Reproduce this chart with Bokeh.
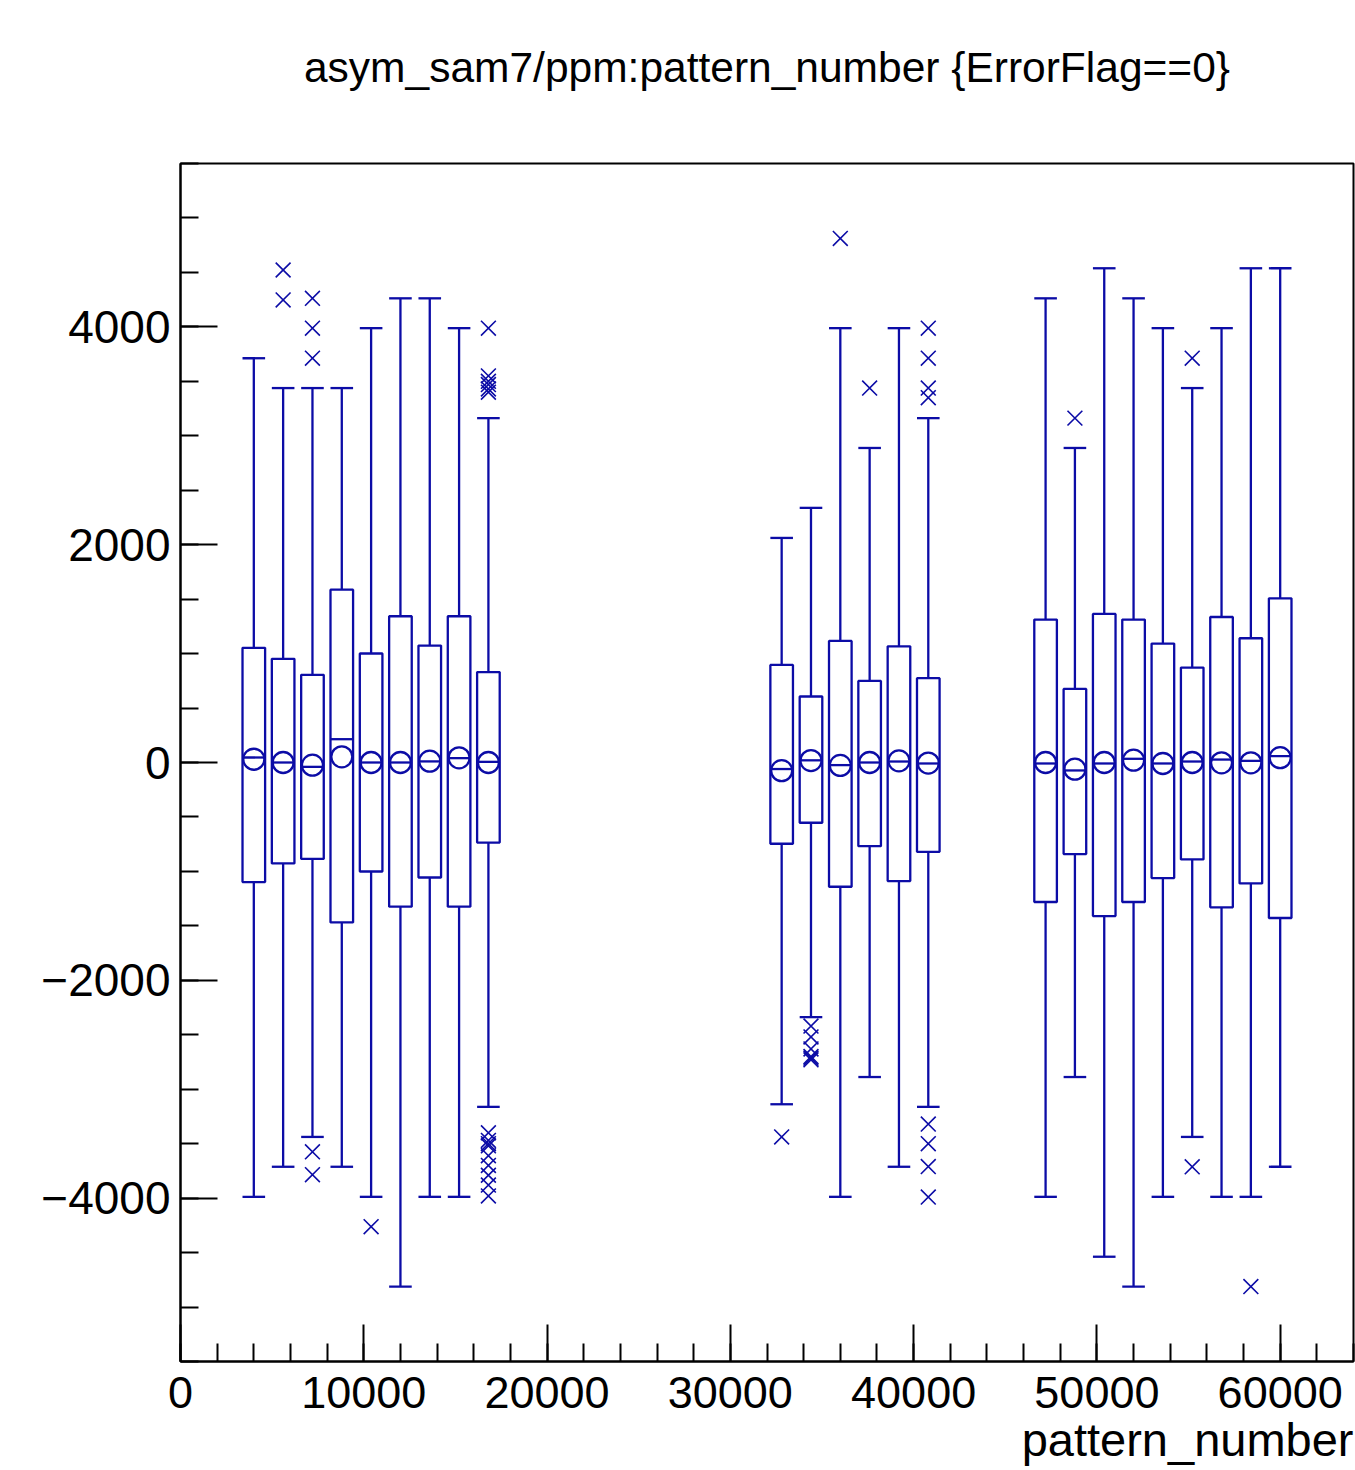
from bokeh.plotting import figure
from bokeh.models import ColumnDataSource, Range1d, SingleIntervalTicker, Title, CustomJSTickFormatter
from bokeh.embed import file_html
from bokeh.resources import INLINE

# ---------------- data ----------------
pattern_bins = [4000, 5600, 7200, 8800, 10400, 12000, 13600, 15200, 16800,
                32800, 34400, 36000, 37600, 39200, 40800,
                47200, 48800, 50400, 52000, 53600, 55200, 56800, 58400, 60000]
whisker_high = [3712, 3438, 3438, 3438, 3988, 4262, 4262, 3988, 3162,
                2062, 2338, 3988, 2888, 3988, 3162,
                4262, 2888, 4538, 4262, 3988, 3438, 3988, 4538, 4538]
q3 = [1053, 952, 805, 1587, 1001, 1343, 1074, 1343, 830,
      896, 606, 1116, 749, 1067, 774,
      1312, 676, 1364, 1312, 1092, 872, 1336, 1141, 1507]
median = [46, 0, -40, 214, 0, 0, 10, 40, 6,
          -60, 20, -24, 0, 9, -9,
          -9, -73, -9, 34, -9, 9, 27, 15, 58]
mean = [30, 0, -25, 52, 0, 0, 12, 43, 0,
        -75, 18, -27, 0, 15, -5,
        0, -61, 0, 21, -9, 0, -3, -3, 44]
q1 = [-1098, -927, -885, -1468, -1001, -1324, -1056, -1324, -735,
      -746, -553, -1141, -768, -1089, -820,
      -1281, -841, -1410, -1281, -1061, -890, -1330, -1110, -1428]
whisker_low = [-3988, -3712, -3438, -3712, -3988, -4812, -3988, -3988, -3162,
               -3138, -2338, -3988, -2888, -3712, -3162,
               -3988, -2888, -4538, -4812, -3988, -3438, -3988, -3988, -3712]

outlier_x = [5600, 5600,
             7200, 7200, 7200, 7200, 7200,
             10400,
             16800, 16800, 16800, 16800, 16800, 16800,
             16800, 16800, 16800, 16800, 16800, 16800, 16800, 16800, 16800,
             32800,
             34400, 34400, 34400, 34400, 34400, 34400,
             36000,
             37600,
             40800, 40800, 40800, 40800, 40800, 40800, 40800, 40800,
             48800,
             55200, 55200,
             58400]
outlier_y = [4522, 4247,
             4262, 3988, 3712, -3575, -3785,
             -4262,
             3988, 3550, 3500, 3470, 3430, 3400,
             -3400, -3470, -3500, -3520, -3610, -3700, -3790, -3880, -3980,
             -3438,
             -2420, -2520, -2630, -2700, -2715, -2730,
             4812,
             3438,
             3988, 3712, 3438, 3350, -3320, -3500, -3710, -3990,
             3162,
             3712, -3712,
             -4812]

title_text = "asym_sam7/ppm:pattern_number {ErrorFlag==0}"
x_label = "pattern_number"

# ---------------- style ----------------
BOX_W = 1233
BLUE = "#0c0ca6"
FONT = "Liberation Sans"
LW = 2.3

half = BOX_W / 2
src = ColumnDataSource(dict(
    x=pattern_bins,
    left=[c - half for c in pattern_bins],
    right=[c + half for c in pattern_bins],
    hi=whisker_high, q3=q3, med=median, mean=mean, q1=q1, lo=whisker_low,
))
out_src = ColumnDataSource(dict(x=outlier_x, y=outlier_y))

p = figure(width=1355, height=1470,
           x_range=Range1d(0, 64000), y_range=Range1d(-5500, 5500),
           output_backend="svg", toolbar_location=None,
           min_border_left=180, min_border_right=2,
           min_border_top=163, min_border_bottom=109,
           title=title_text)

p.title.align = "center"
p.title.text_font = FONT
p.title.text_font_size = "42.5px"
p.title.text_font_style = "normal"
p.title.text_color = "black"
p.title.standoff = 0

# empty spacer panel between the title and the frame
spacer = Title(text=" ", text_font_size="10px", standoff=60)
p.add_layout(spacer, "above")

p.grid.visible = False
p.outline_line_color = "black"
p.outline_line_width = 2
p.outline_line_alpha = 1
p.background_fill_color = "white"
p.border_fill_color = "white"

p.xaxis.ticker = SingleIntervalTicker(interval=10000, num_minor_ticks=5)
p.yaxis.ticker = SingleIntervalTicker(interval=2000, num_minor_ticks=4)
for ax in p.axis:
    ax.major_tick_in = 37
    ax.major_tick_out = 0
    ax.minor_tick_in = 18
    ax.minor_tick_out = 0
    ax.axis_line_width = 2
    ax.axis_line_color = "black"
    ax.major_tick_line_width = 2
    ax.minor_tick_line_width = 2
    ax.major_tick_line_color = "black"
    ax.minor_tick_line_color = "black"
    ax.major_label_text_font = FONT
    ax.major_label_text_font_size = "45px"
    ax.major_label_text_color = "black"
p.yaxis.major_label_text_font_size = "46px"
p.xaxis.major_label_standoff = 15
p.yaxis.major_label_standoff = 10
p.yaxis.formatter = CustomJSTickFormatter(
    code="return tick < 0 ? '\\u2212' + Math.abs(tick).toFixed(0) : tick.toFixed(0);")
p.xaxis.formatter = CustomJSTickFormatter(code="return tick.toFixed(0);")

# whiskers
p.segment(x0="x", y0="q3", x1="x", y1="hi", source=src, line_color=BLUE, line_width=LW)
p.segment(x0="x", y0="q1", x1="x", y1="lo", source=src, line_color=BLUE, line_width=LW)
# caps
p.segment(x0="left", y0="hi", x1="right", y1="hi", source=src, line_color=BLUE, line_width=LW)
p.segment(x0="left", y0="lo", x1="right", y1="lo", source=src, line_color=BLUE, line_width=LW)
# boxes
p.quad(left="left", right="right", bottom="q1", top="q3", source=src,
       fill_alpha=0, line_color=BLUE, line_width=LW)
# median
p.segment(x0="left", y0="med", x1="right", y1="med", source=src, line_color=BLUE, line_width=LW)
# mean
p.scatter(x="x", y="mean", source=src, marker="circle", size=21,
          fill_alpha=0, line_color=BLUE, line_width=LW)
# outliers
p.scatter(x="x", y="y", source=out_src, marker="x", size=21,
          line_color=BLUE, line_width=1.6)

xt = Title(text=x_label, align="right", text_font=FONT, text_font_size="47px",
           text_font_style="normal", text_color="black", standoff=0)
p.add_layout(xt, "below")

open("out.html", "w").write(file_html(p, INLINE))
